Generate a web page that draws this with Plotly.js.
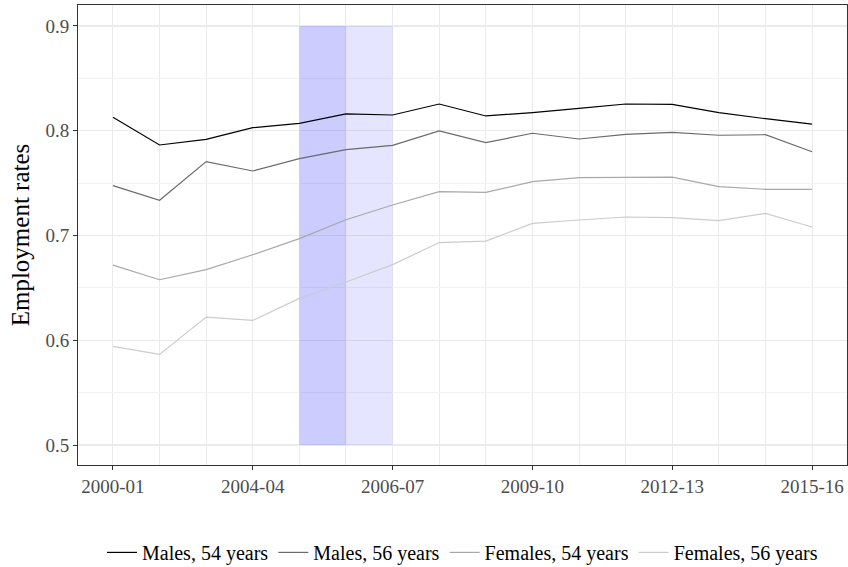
<!DOCTYPE html>
<html>
<head>
<meta charset="utf-8">
<script src="https://cdn.plot.ly/plotly-3.0.1.min.js"></script>
<style>html,body{margin:0;padding:0;background:#fff;}#chart{width:848px;height:567px;}</style>
</head>
<body>
<div id="chart"></div>
<script>
// Period index (0 = 2000-01 ... 15 = 2015-16)
const periods = [0,1,2,3,4,5,6,7,8,9,10,11,12,13,14,15];
const tickPositions = [0,3,6,9,12,15];
const tickLabels = ["2000-01","2004-04","2006-07","2009-10","2012-13","2015-16"];

const males54   = [0.8128,0.7864,0.7918,0.8029,0.8071,0.8160,0.8150,0.8255,0.8141,0.8173,0.8214,0.8255,0.8252,0.8173,0.8115,0.8064];
const males56   = [0.7476,0.7336,0.7705,0.7616,0.7734,0.7819,0.7861,0.7998,0.7886,0.7976,0.7921,0.7966,0.7985,0.7957,0.7962,0.7800];
const females54 = [0.6718,0.6578,0.6674,0.6817,0.6970,0.7151,0.7291,0.7418,0.7412,0.7514,0.7552,0.7552,0.7558,0.7466,0.7441,0.7441];
const females56 = [0.5942,0.5866,0.6222,0.6190,0.6400,0.6556,0.6722,0.6933,0.6947,0.7116,0.7148,0.7177,0.7170,0.7142,0.7212,0.7081];

const seriesNames = ["Males, 54 years","Males, 56 years","Females, 54 years","Females, 56 years"];
const seriesColors = ["#000000","#6b6b6b","#a8a8a8","#cccccc"];

// Shaded reform periods: [start, end] in period index, y-range
const shadeStarts = [4, 5];
const shadeEnds   = [5, 6];
const shadeFills  = ["rgba(0,0,255,0.2)","rgba(0,0,255,0.1)"];
const shadeYLow = 0.5, shadeYHigh = 0.9;

const allSeries = [males54, males56, females54, females56];
const traces = allSeries.map((ys,i)=>({
  x: periods, y: ys, type:'scatter', mode:'lines', name: seriesNames[i],
  line:{color: seriesColors[i], width:1.2}
}));

const shapes = shadeStarts.map((s,i)=>({
  type:'rect', xref:'x', yref:'y', x0:s, x1:shadeEnds[i], y0:shadeYLow, y1:shadeYHigh,
  fillcolor: shadeFills[i], line:{width:0}, layer:'between'
}));

const font = "Liberation Serif, DejaVu Serif, serif";
const layout = {
  width:848, height:567,
  margin:{l:78, r:1, t:5, b:102, autoexpand:false},
  paper_bgcolor:'#fff', plot_bgcolor:'#fff',
  font:{family:font, size:19, color:'#000'},
  showlegend:true,
  legend:{orientation:'h', x:0.5, xanchor:'center', y:-0.19, yanchor:'middle',
    font:{family:font, size:20, color:'#000'}, itemwidth:30, tracegroupgap:0},
  xaxis:{
    range:[-0.75,15.75], tickmode:'array', tickvals:tickPositions, ticktext:tickLabels,
    showgrid:false, zeroline:false, automargin:false,
    ticks:'outside', ticklen:4, tickwidth:1, tickcolor:'#333',
    tickfont:{family:font, size:19, color:'#4d4d4d'},
    showline:true, linecolor:'#333', linewidth:1, mirror:true,
    minor:{tickmode:'array', tickvals:periods, showgrid:true, gridcolor:'#ebebeb', gridwidth:1, ticks:''}
  },
  yaxis:{
    range:[0.481,0.920], tickmode:'array', tickvals:[0.5,0.6,0.7,0.8,0.9],
    ticktext:['0.5','0.6','0.7','0.8','0.9'],
    showgrid:true, gridcolor:'#ebebeb', gridwidth:1.2, zeroline:false, automargin:false,
    ticks:'outside', ticklen:4, tickwidth:1, tickcolor:'#333',
    tickfont:{family:font, size:19, color:'#4d4d4d'},
    showline:true, linecolor:'#333', linewidth:1, mirror:true,
    minor:{dtick:0.05, showgrid:true, gridcolor:'#f2f2f2', gridwidth:1, ticks:''},
    title:{text:'Employment rates', font:{family:font, size:25, color:'#000'}, standoff:8}
  },
  shapes: shapes
};
Plotly.newPlot('chart', traces, layout, {displayModeBar:false, staticPlot:true});
</script>
</body>
</html>
